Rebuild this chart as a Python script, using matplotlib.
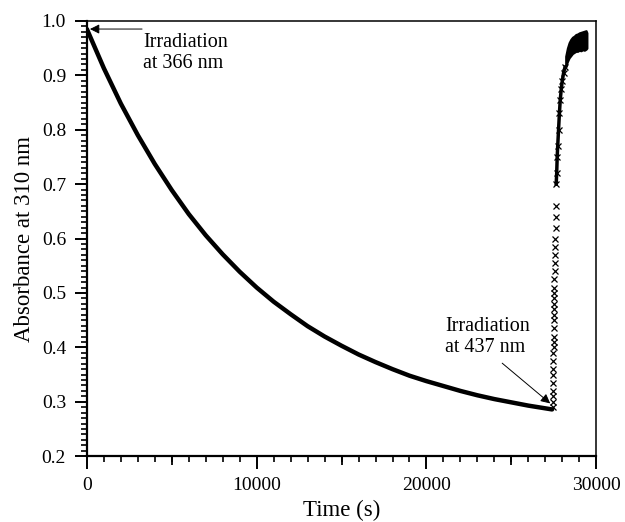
import numpy as np
import matplotlib
matplotlib.use("Agg")
from matplotlib import pyplot as plt
from matplotlib.ticker import MultipleLocator, FormatStrFormatter

# decay under 366 nm irradiation (every 1000 s)
decay_t = [0, 1000, 2000, 3000, 4000, 5000, 6000, 7000, 8000, 9000, 10000,
           11000, 12000, 13000, 14000, 15000, 16000, 17000, 18000, 19000, 20000,
           21000, 22000, 23000, 24000, 25000, 26000, 27000, 27400]
decay_a = [0.985, 0.913, 0.848, 0.790, 0.737, 0.689, 0.645, 0.606, 0.571, 0.539, 0.510,
           0.484, 0.461, 0.439, 0.420, 0.403, 0.387, 0.373, 0.360, 0.348, 0.338,
           0.329, 0.320, 0.312, 0.305, 0.299, 0.293, 0.288, 0.286]

# recovery under 437 nm irradiation
rise_t = [27430, 27440, 27450, 27455, 27460, 27465, 27470, 27475, 27480, 27485,
          27490, 27495, 27500, 27505, 27510, 27515, 27520, 27525, 27530, 27535,
          27540, 27550, 27560, 27570, 27580, 27590, 27600, 27610, 27620, 27640,
          27670, 27700, 27730, 27780, 27830, 27880, 27940, 28000, 28080, 28160]
rise_a = [0.29, 0.30, 0.31, 0.32, 0.335, 0.35, 0.36, 0.375, 0.39, 0.40,
          0.41, 0.42, 0.435, 0.45, 0.46, 0.47, 0.48, 0.49, 0.50, 0.51,
          0.525, 0.54, 0.555, 0.57, 0.585, 0.60, 0.62, 0.64, 0.66, 0.70,
          0.72, 0.75, 0.77, 0.80, 0.83, 0.855, 0.875, 0.89, 0.905, 0.915]

# noisy plateau at the end
plateau_t = [28200, 28300, 28400, 28500, 28600, 28700, 28800, 28900, 29000,
             29100, 29200, 29300, 29400, 29450]
plateau_lo = [0.915, 0.925, 0.932, 0.936, 0.940, 0.942, 0.944, 0.944, 0.946,
              0.945, 0.947, 0.946, 0.948, 0.950]
plateau_hi = [0.935, 0.950, 0.960, 0.966, 0.970, 0.972, 0.975, 0.976, 0.978,
              0.979, 0.980, 0.981, 0.982, 0.978]

mid_ticks = [5000, 15000, 25000]

plt.rcParams['font.family'] = ['Liberation Serif', 'DejaVu Serif']
plt.rcParams['font.size'] = 14

fig = plt.figure(figsize=(6.25, 5.22), dpi=100)
ax = fig.add_axes([0.139, 0.126, 0.815, 0.834])

ax.plot(decay_t, decay_a, color='black', lw=3.2, solid_capstyle='round')
ax.plot(rise_t, rise_a, ls='none', marker='x', ms=3.8, mew=0.9, color='black')
ax.plot(rise_t[29:], rise_a[29:], color='black', lw=2.5)
ax.fill_between(plateau_t, plateau_lo, plateau_hi, color='black', lw=1.5,
                edgecolor='black')

ax.set_xlim(0, 30000)
ax.set_ylim(0.2, 1.0)
ax.xaxis.set_major_locator(MultipleLocator(10000))
ax.xaxis.set_minor_locator(MultipleLocator(1000))
ax.yaxis.set_major_locator(MultipleLocator(0.1))
ax.yaxis.set_minor_locator(MultipleLocator(0.01))
ax.yaxis.set_major_formatter(FormatStrFormatter('%.1f'))

ax.tick_params(which='major', direction='out', length=9, width=1.4,
               top=False, right=False, pad=6)
ax.tick_params(which='minor', direction='out', length=4.5, width=1.2,
               top=False, right=False)

# medium ticks every 5000 s
mid = ax.secondary_xaxis('bottom')
mid.set_xticks(mid_ticks, labels=['' for _ in mid_ticks])
mid.tick_params(direction='out', length=6.5, width=1.3)
mid.spines['bottom'].set_visible(False)

for s in ['left', 'bottom']:
    ax.spines[s].set_linewidth(1.6)
for s in ['top', 'right']:
    ax.spines[s].set_linewidth(1.1)

ax.set_xlabel('Time (s)', fontsize=16.5, labelpad=4)
ax.set_ylabel('Absorbance at 310 nm', fontsize=16.5, labelpad=5)

arrow = dict(arrowstyle='-|>', lw=0.7, color='black', mutation_scale=14,
             shrinkA=0, shrinkB=0)
ax.annotate('', xy=(180, 0.985), xytext=(3250, 0.985), arrowprops=arrow)
ax.text(3300, 0.941, 'Irradiation\nat 366 nm', ha='left', va='center', fontsize=14.5)
ax.annotate('', xy=(27290, 0.297), xytext=(24460, 0.371), arrowprops=arrow)
ax.text(21100, 0.419, 'Irradiation\nat 437 nm', ha='left', va='center', fontsize=14.5)

fig.savefig('out.png', dpi=100)
